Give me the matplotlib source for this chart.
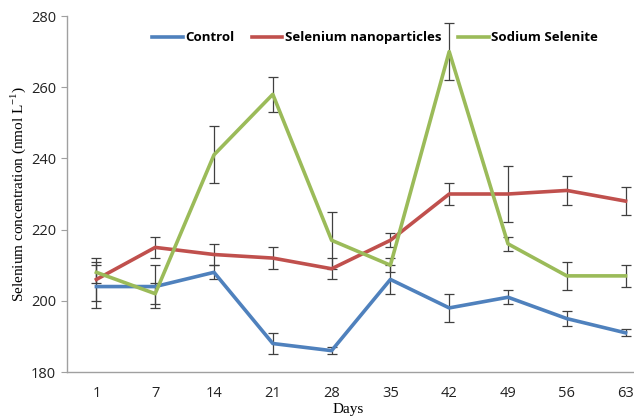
import matplotlib
matplotlib.use("Agg")
from matplotlib import pyplot as plt
from matplotlib.lines import Line2D
import numpy as np

days = ["1", "7", "14", "21", "28", "35", "42", "49", "56", "63"]

control = [204, 204, 208, 188, 186, 206, 198, 201, 195, 191]
control_err = [6, 6, 2, 3, 1, 4, 4, 2, 2, 1]

nano = [206, 215, 213, 212, 209, 217, 230, 230, 231, 228]
nano_err = [6, 3, 3, 3, 3, 2, 3, 8, 4, 4]

selenite = [208, 202, 241, 258, 217, 210, 270, 216, 207, 207]
selenite_err = [3, 3, 8, 5, 8, 2, 8, 2, 4, 3]

x = np.arange(len(days))

plt.rcParams["mathtext.fontset"] = "custom"
plt.rcParams["mathtext.rm"] = "Liberation Serif"

fig = plt.figure(figsize=(6.34, 4.16), dpi=100)
# plot area runs past the right edge like the cropped original
ax = fig.add_axes([67/634, 44/416, 588/634, 356/416])

series = [
	("Control", control, control_err, "#4F81BD"),
	("Selenium nanoparticles", nano, nano_err, "#C0504D"),
	("Sodium Selenite", selenite, selenite_err, "#9BBB59"),
]
handles = []
for name, y, err, col in series:
	ax.errorbar(x, y, yerr=err, color=col, lw=2.6,
		ecolor="#404040", elinewidth=0.9, capsize=3.5, capthick=0.9, zorder=3)
	handles.append(Line2D([], [], color=col, lw=2.6, label=name))

ax.set_xlim(-0.5, 9.5)
ax.set_ylim(180, 280)
ax.set_yticks([180, 200, 220, 240, 260, 280])
ax.set_xticks(x)
ax.set_xticklabels(days)

for s in ["top", "right"]:
	ax.spines[s].set_visible(False)
for s in ["left", "bottom"]:
	ax.spines[s].set_color("#a0a0a0")
	ax.spines[s].set_linewidth(1.0)

ax.tick_params(axis="y", length=4, color="#a0a0a0", labelsize=10.5, labelcolor="#222222", pad=4)
ax.tick_params(axis="x", length=0, labelsize=10.5, labelcolor="#222222", pad=10)
for lab in ax.get_xticklabels() + ax.get_yticklabels():
	lab.set_family("Open Sans")

ax.set_ylabel(r"Selenium concentration (nmol L$^{\mathrm{-1}}$)", family="Liberation Serif", fontsize=11, labelpad=2)
ax.set_xlabel("Days", family="Liberation Serif", fontsize=11)
ax.xaxis.set_label_coords((348 - 67)/588, -0.088)

leg = ax.legend(handles=handles, loc="upper left", bbox_to_anchor=(0.125, 0.99), ncol=3, frameon=False,
	handlelength=2.3, handletextpad=0.2, columnspacing=1.3,
	prop={"family": "Open Sans", "weight": "bold", "size": 9.5})

fig.savefig("out.png", dpi=100)
plt.close(fig)
